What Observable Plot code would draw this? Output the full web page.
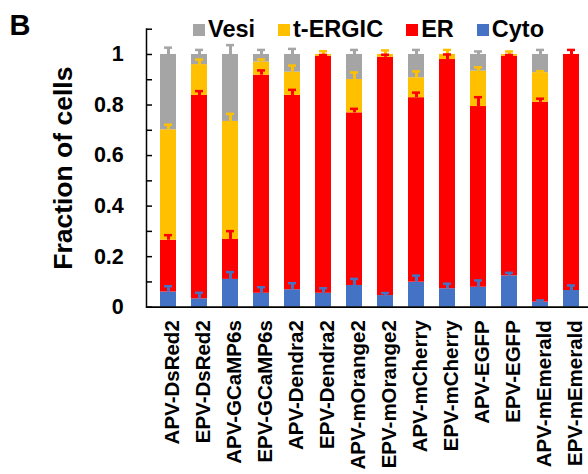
<!DOCTYPE html>
<html>
<head>
<meta charset="utf-8">
<script src="https://cdn.jsdelivr.net/npm/d3@7"></script>
<script src="https://cdn.jsdelivr.net/npm/@observablehq/plot@0.6"></script>
<style>
  html, body { margin: 0; padding: 0; background: #fff; }
  #wrap { position: relative; width: 588px; height: 474px; font-family: "Liberation Sans", Arial, sans-serif; }
  #panel { position: absolute; left: 9.5px; top: 10.5px; font-size: 29px; font-weight: bold; line-height: 1; }
  #legend { position: absolute; left: 193px; top: 16px; display: flex; align-items: center; font-size: 23.5px; font-weight: bold; }
  #legend .item { display: flex; align-items: center; margin-right: 23px; }
  #legend .sw { width: 12px; height: 12px; margin-right: 3px; }
  #chart { position: absolute; left: 0; top: 0; }
</style>
</head>
<body>
<div id="wrap">
  <div id="chart"></div>
  <div id="panel">B</div>
  <div id="legend"></div>
</div>
<script>
// ---- data ----
const categories = ["APV-DsRed2","EPV-DsRed2","APV-GCaMP6s","EPV-GCaMP6s","APV-Dendra2","EPV-Dendra2","APV-mOrange2","EPV-mOrange2","APV-mCherry","EPV-mCherry","APV-EGFP","EPV-EGFP","APV-mEmerald","EPV-mEmerald"];
const seriesNames = ["Cyto","ER","t-ERGIC","Vesi"]; // stacking order, bottom to top
const legendOrder = ["Vesi","t-ERGIC","ER","Cyto"];
const seriesColors = ["#A5A5A5","#FFC000","#FF0000","#4472C4"]; // for legendOrder

const cyto    = [0.060,0.033,0.110,0.055,0.069,0.055,0.086,0.046,0.099,0.073,0.079,0.124,0.020,0.066];
const er      = [0.205,0.805,0.158,0.863,0.769,0.938,0.683,0.943,0.730,0.907,0.715,0.869,0.791,0.934];
const tergic  = [0.437,0.122,0.467,0.052,0.092,0.007,0.132,0.011,0.079,0.020,0.140,0.007,0.117,0.000];
const vesi    = [0.298,0.040,0.265,0.030,0.070,0.000,0.099,0.000,0.092,0.000,0.066,0.000,0.072,0.000];

const cytoErr   = [0.023,0.024,0.029,0.024,0.026,0.020,0.026,0.010,0.026,0.020,0.027,0.012,0.007,0.020];
const erErr     = [0.020,0.017,0.033,0.019,0.022,0.005,0.016,0.010,0.020,0.020,0.037,0.005,0.014,0.018];
const tergicErr = [0.020,0.020,0.030,0.010,0.026,0.013,0.028,0.016,0.025,0.018,0.015,0.012,0.006,0.000];
const vesiErr   = [0.027,0.018,0.037,0.018,0.022,0.000,0.018,0.000,0.018,0.000,0.012,0.000,0.018,0.000];

const yTickMarks  = [0,0.1,0.2,0.3,0.4,0.5,0.6,0.7,0.8,0.9,1.0,1.1];
const yTickLabels = [0,0.2,0.4,0.6,0.8,1.0];

// ---- table ----
const values = [cyto, er, tergic, vesi];
const errs = [cytoErr, erErr, tergicErr, vesiErr];
const rows = [];
categories.forEach((cat, i) => {
  let cum = 0;
  seriesNames.forEach((s, k) => {
    cum += values[k][i];
    rows.push({cat, comp: s, value: values[k][i], err: errs[k][i], top: cum});
  });
});
const errRows = rows.filter(d => d.value > 0 && d.err > 0);

const font = "'Liberation Sans', Arial, sans-serif";

const chart = Plot.plot({
  width: 588,
  height: 474,
  marginLeft: 146,
  marginRight: 0,
  marginTop: 28.7,
  marginBottom: 167.3,
  style: {fontFamily: font, background: "transparent", color: "#000"},
  x: {domain: categories, paddingInner: 0.5, paddingOuter: 0.19, align: 0.6, label: null},
  y: {domain: [0, 1.1], label: null},
  color: {domain: legendOrder, range: seriesColors},
  marks: [
    Plot.barY(rows, {x: "cat", y: "value", fill: "comp"}),
    Plot.ruleX(errRows, {x: "cat", y1: "top", y2: d => d.top + d.err, stroke: "comp", strokeWidth: 3}),
    Plot.tickY(errRows, {x: "cat", y: d => d.top + d.err, stroke: "comp", strokeWidth: 2.5, insetLeft: 4, insetRight: 4}),
    Plot.frame({anchor: "left", stroke: "#000", strokeWidth: 1.5}),
    Plot.ruleY([0], {stroke: "#000", strokeWidth: 1.75}),
    Plot.axisY(yTickMarks, {tickSize: 6, dx: 6, tickFormat: () => "", strokeWidth: 1.5, label: null}),
    Plot.axisY(yTickLabels, {tickSize: 0, tickPadding: 22.7, tickFormat: d => d === 0 ? "0" : d === 1 ? "1" : d.toFixed(1), fontSize: 21.5, fontWeight: "bold", label: null}),
    Plot.axisX({tickRotate: -90, tickSize: 0, tickPadding: 13, fontSize: 20.5, fontWeight: "bold", dx: 3.5, label: null}),
    Plot.text(["Fraction of cells"], {text: d => d, frameAnchor: "left", dx: -74.3, rotate: -90, textAnchor: "middle", lineAnchor: "bottom", fontSize: 26.5, fontWeight: "bold"})
  ]
});
document.getElementById("chart").appendChild(chart);

// legend
const legend = document.getElementById("legend");
legendOrder.forEach((name, i) => {
  const item = document.createElement("div");
  item.className = "item";
  const sw = document.createElement("div");
  sw.className = "sw";
  sw.style.background = seriesColors[i];
  const t = document.createElement("span");
  t.textContent = name;
  item.appendChild(sw);
  item.appendChild(t);
  legend.appendChild(item);
});
</script>
</body>
</html>
